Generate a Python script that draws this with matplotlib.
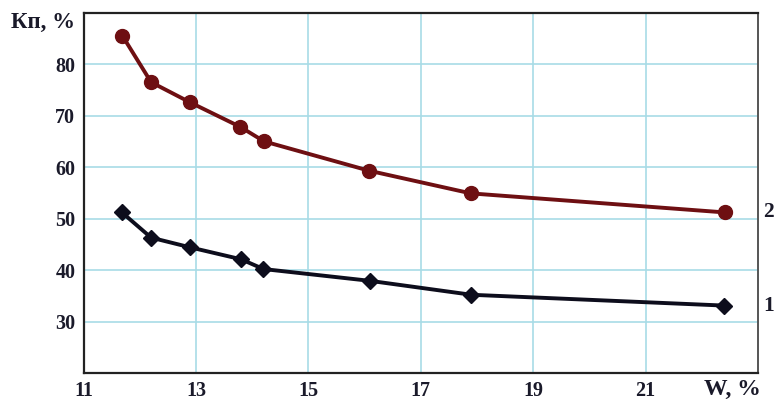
import matplotlib
matplotlib.use("Agg")
import matplotlib.pyplot as plt

# Moisture W, % and coefficient Kп, % for the two curves
w_curve2 = [11.69, 12.20, 12.89, 13.79, 14.21, 16.08, 17.89, 22.41]
k_curve2 = [85.5, 76.5, 72.6, 67.8, 65.0, 59.3, 54.9, 51.2]

w_curve1 = [11.68, 12.20, 12.90, 13.80, 14.20, 16.10, 17.90, 22.40]
k_curve1 = [51.2, 46.3, 44.4, 42.1, 40.2, 37.9, 35.2, 33.1]

x_ticks = [11, 13, 15, 17, 19, 21]
y_ticks = [30, 40, 50, 60, 70, 80]

serif = ["Liberation Serif", "DejaVu Serif"]
text_color = "#1a1a2a"

fig = plt.figure(figsize=(7.77, 4.01), dpi=100)
ax = fig.add_axes([0.1077, 0.0698, 0.8678, 0.8985])

ax.set_xlim(11, 23)
ax.set_ylim(20, 90)

ax.plot(w_curve2, k_curve2, color="#6e0f12", lw=2.8, marker="o", ms=10,
        zorder=3)
ax.plot(w_curve1, k_curve1, color="#0d0d1c", lw=2.8, marker="D", ms=8,
        zorder=3)

ax.set_xticks(x_ticks)
ax.set_yticks(y_ticks)
ax.grid(True, color="#a8dbe6", lw=1.2, zorder=0)
ax.tick_params(axis="y", length=0, pad=6)
ax.tick_params(axis="x", length=0, pad=6)
for lbl in ax.get_xticklabels() + ax.get_yticklabels():
    lbl.set_fontfamily(serif)
    lbl.set_fontweight("bold")
    lbl.set_fontsize(14.5)
    lbl.set_color(text_color)

for side in ("left", "bottom", "top"):
    ax.spines[side].set_color("#222222")
    ax.spines[side].set_linewidth(1.6)
ax.spines["right"].set_color("#555555")
ax.spines["right"].set_linewidth(1.4)

fig.text(0.055, 0.945, "Кп, %", family=serif, fontweight="bold", fontsize=16.5,
         color=text_color, ha="center", va="center")
fig.text(0.943, 0.03, "W, %", family=serif, fontweight="bold", fontsize=17,
         color=text_color, ha="center", va="center")

ax.text(1.016, 51.2, "2", transform=ax.get_yaxis_transform(), family=serif,
        fontweight="bold", fontsize=15.5, color=text_color, ha="center",
        va="center")
ax.text(1.016, 33.1, "1", transform=ax.get_yaxis_transform(), family=serif,
        fontweight="bold", fontsize=15.5, color=text_color, ha="center",
        va="center")

fig.savefig("out.png", dpi=100, facecolor="white")
